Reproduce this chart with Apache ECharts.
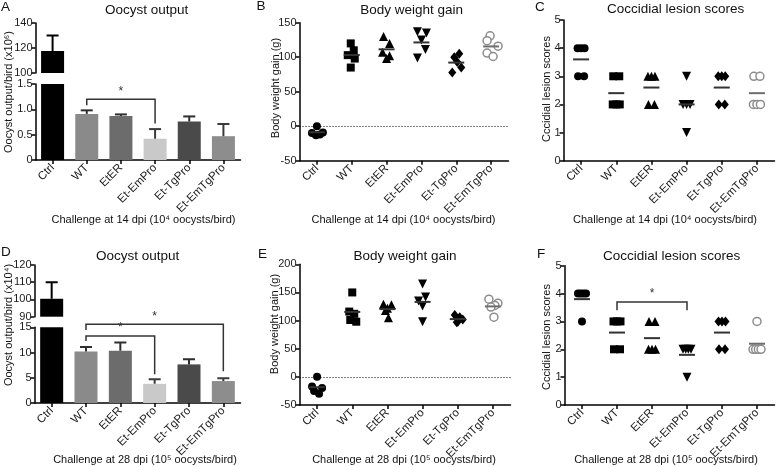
<!DOCTYPE html>
<html><head><meta charset="utf-8">
<script src="https://cdn.jsdelivr.net/npm/echarts@6/dist/echarts.min.js"></script>
<style>html,body{margin:0;padding:0;background:#fff}#c{width:777px;height:467px}</style>
</head><body><div id="c"></div>
<script>
// ---------------- DATA ----------------
const categories = ['Ctrl', 'WT', 'EtER', 'Et-EmPro', 'Et-TgPro', 'Et-EmTgPro'];

// A: oocyst output, challenge 14 dpi (x10^6), mean and SEM
const oocyst14Mean = [117.6, 0.91, 0.87, 0.42, 0.76, 0.47];
const oocyst14Err  = [12.4, 0.07, 0.03, 0.19, 0.10, 0.24];
// D: oocyst output, challenge 28 dpi (x10^4)
const oocyst28Mean = [100.4, 10.2, 10.35, 3.8, 7.65, 4.35];
const oocyst28Err  = [9.6, 0.9, 1.65, 0.9, 1.0, 0.55];

// B / E: body weight gain (g), 5 birds per group
const bw14 = [
  [0, -10, -13, -12, -9],
  [120, 110, 103, 98, 85],
  [130, 120, 107, 102, 98],
  [137, 135, 125, 111, 99],
  [105, 100, 93, 85, 78],
  [131, 124, 116, 106, 101]
];
const bw28 = [
  [0, -17, -20, -25, -30],
  [150, 116, 112, 101, 98],
  [129, 128, 122, 118, 105],
  [165, 142, 135, 126, 98],
  [110, 106, 102, 98, 97],
  [138, 131, 127, 124, 106]
];
// C / F: coccidial lesion scores
const lesion14 = [
  [4, 4, 4, 3, 3],
  [3, 3, 2, 2, 2],
  [3, 3, 3, 2, 2],
  [3, 2, 2, 2, 1],
  [3, 3, 3, 2, 2],
  [3, 3, 2, 2, 2]
];
const lesion28 = [
  [4, 4, 4, 4, 3],
  [3, 3, 3, 2, 2],
  [3, 3, 2, 2, 2],
  [2, 2, 2, 2, 1],
  [3, 3, 3, 2, 2],
  [3, 2, 2, 2, 2]
];

// significance brackets: [fromIndex, toIndex, barValue, fromLegEnd, toLegEnd]
const bracketsA = [[1, 3, 1.2, 1.08, 0.72]];
const bracketsD = [[1, 5, 15.6, 14.45, 6.3], [1, 3, 13.27, 12.3, 5.7]];
const bracketsF = [[1, 3, 3.7, 3.4, 3.4]];

// text
const titleOocyst = 'Oocyst output';
const titleBW = 'Body weight gain';
const titleLesion = 'Coccidial lesion scores';
const xName14 = 'Challenge at 14 dpi (10\u2074 oocysts/bird)';
const xName28 = 'Challenge at 28 dpi (10\u2075 oocysts/bird)';
const yNameA = 'Oocyst output/bird (x10\u2076)';
const yNameD = 'Oocyst output/bird (x10\u2074)';
const yNameBW = 'Body weight gain (g)';
const yNameLesion = 'Cccidial lesion scores';

// ---------------- STYLE (not data) ----------------
const FONT = '"Liberation Sans", Arial, sans-serif';
const barColors = ['#000000', '#8a8a8a', '#6c6c6c', '#c9c9c9', '#4a4a4a', '#8d8d8d'];
const errColors = ['#000000', '#2e2e2e', '#2e2e2e', '#3a3a3a', '#2e2e2e', '#3a3a3a'];
const symbols = ['circle', 'rect', 'triangle', 'triangle', 'diamond', 'circle'];
const symbolRot = [0, 0, 0, 180, 0, 0];
const symbolSizes = [8, 8, 9, 9, [8, 10], 8];
// horizontal jitter (px) for body weight scatter
const bw14Jitter = [[0, -5, -1, 3, 6], [-1, 2, -4, 3, -1], [-3, 3, -4, 3, 0], [-4, 5, 0, 4, -4], [3, -2, 1, 5, -4], [-1, -4, 7, -4, 2]];
const bw28Jitter = [[0, -5, 5, -3, 2], [0, -3, 2, -2, 4], [-4, 4, 0, -2, 1], [0, 3, -4, 0, 0], [-3, 2, 5, 0, -1], [-4, 5, 2, -2, 1]];

function spreadOffsets(vals) {
  const counts = {}, seen = {};
  vals.forEach(v => counts[v] = (counts[v] || 0) + 1);
  const spanFor = n => n <= 1 ? 0 : (n === 2 ? 6 : (n === 3 ? 7 : 8));
  return vals.map(v => {
    const n = counts[v]; const k = seen[v] || 0; seen[v] = k + 1;
    if (n === 1) return 0;
    const s = spanFor(n);
    return -s / 2 + k * s / (n - 1);
  });
}
const mean = a => a.reduce((s, v) => s + v, 0) / a.length;

const grids = [
  {left: 35.5, top: 23, width: 205, height: 50},     // 0 A upper
  {left: 35.5, top: 84, width: 205, height: 76},     // 1 A lower
  {left: 299.5, top: 22.7, width: 209, height: 138}, // 2 B
  {left: 563.5, top: 20, width: 211, height: 140.7}, // 3 C
  {left: 34.5, top: 265, width: 206, height: 51.7},  // 4 D upper
  {left: 34.5, top: 327.3, width: 206, height: 75.7},// 5 D lower
  {left: 299.5, top: 264.3, width: 211, height: 140.7}, // 6 E
  {left: 564.5, top: 265.7, width: 210, height: 139.3}  // 7 F
].map(g => Object.assign({containLabel: false, outerBoundsMode: 'none'}, g));

const axisLine = {show: true, onZero: false, lineStyle: {color: '#000', width: 1.5}};
const axisTick = {show: true, length: 4, lineStyle: {color: '#000', width: 1.5}};

function xAxis(gi, show) {
  return {
    type: 'category', gridIndex: gi, data: categories, boundaryGap: true,
    show: show,
    axisLine: axisLine,
    axisTick: Object.assign({alignWithLabel: true, interval: 0}, axisTick),
    axisLabel: {interval: 0, rotate: 45, fontSize: 11.5, color: '#1a1a1a', fontFamily: FONT, margin: 6, hideOverlap: false},
    splitLine: {show: false}
  };
}
function yAxis(gi, min, max, interval, fmt) {
  return {
    type: 'value', gridIndex: gi, min, max, interval,
    axisLine: axisLine, axisTick: axisTick,
    axisLabel: {fontSize: 11, color: '#1a1a1a', fontFamily: FONT, margin: 3, formatter: fmt},
    splitLine: {show: false}
  };
}
const fmt1 = v => v === 0 ? '0' : v.toFixed(1);

const xAxes = [xAxis(0, false), xAxis(1, true), xAxis(2, true), xAxis(3, true),
               xAxis(4, false), xAxis(5, true), xAxis(6, true), xAxis(7, true)];
const yAxes = [
  yAxis(0, 100, 140, 20), yAxis(1, 0, 1.5, 0.5, fmt1), yAxis(2, -50, 150, 50), yAxis(3, 0, 5, 1),
  yAxis(4, 90, 120, 10), yAxis(5, 0, 15, 5), yAxis(6, -50, 200, 50), yAxis(7, 0, 5, 1)
];

function barSeries(ai, means) {
  return {
    type: 'bar', xAxisIndex: ai, yAxisIndex: ai, barWidth: 23, clip: true,
    data: means.map((m, i) => ({value: m, itemStyle: {color: barColors[i]}})),
    z: 2
  };
}
function errorSeries(ai, means, errs) {
  return {
    type: 'custom', xAxisIndex: ai, yAxisIndex: ai, clip: true, z: 3,
    encode: {x: 0, y: 1},
    data: means.map((m, i) => [i, m, m + errs[i]]),
    renderItem(params, api) {
      const cs = params.coordSys;
      const base = api.coord([api.value(0), api.value(1)]);
      const top = api.coord([api.value(0), api.value(2)]);
      if (base[1] < cs.y - 0.5 || top[1] > cs.y + cs.height + 0.5) return null;
      const c = errColors[params.dataIndex];
      return {type: 'group', children: [
        {type: 'line', shape: {x1: base[0], y1: base[1], x2: top[0], y2: top[1]}, style: {stroke: c, lineWidth: 2}},
        {type: 'line', shape: {x1: top[0] - 6, y1: top[1], x2: top[0] + 6, y2: top[1]}, style: {stroke: c, lineWidth: 2}}
      ]};
    }
  };
}
function bracketSeries(ai, brackets) {
  return {
    type: 'custom', xAxisIndex: ai, yAxisIndex: ai, clip: false, z: 5,
    encode: {x: 0, y: 2},
    data: brackets,
    renderItem(params, api) {
      const f = api.value(0), t = api.value(1), y = api.value(2);
      const p1 = api.coord([f, api.value(3)]), p2 = api.coord([f, y]);
      const p3 = api.coord([t, y]), p4 = api.coord([t, api.value(4)]);
      return {type: 'group', children: [
        {type: 'polyline', shape: {points: [p1, p2, p3, p4]}, style: {stroke: '#333', lineWidth: 1.5, fill: null}},
        {type: 'text', x: (p2[0] + p3[0]) / 2, y: p2[1] - 2,
         style: {text: '*', fontSize: 12, fontFamily: FONT, fill: '#333', align: 'center', verticalAlign: 'bottom'}}
      ]};
    }
  };
}
function scatterSeries(ai, groups, offsetsFn) {
  return groups.map((g, gi) => {
    const offs = offsetsFn(g, gi);
    const open = gi === 5;
    return {
      type: 'scatter', xAxisIndex: ai, yAxisIndex: ai, z: 4,
      symbol: symbols[gi], symbolRotate: symbolRot[gi], symbolSize: symbolSizes[gi],
      itemStyle: open ? {color: '#fff', borderColor: '#8d8d8d', borderWidth: 1.5, opacity: 1}
                      : {color: '#000', opacity: 1},
      emphasis: {disabled: true},
      data: g.map((v, k) => ({value: [gi, v], symbolOffset: [offs[k], 0]}))
    };
  });
}
function meanSeries(ai, groups) {
  return {
    type: 'custom', xAxisIndex: ai, yAxisIndex: ai, z: 6,
    encode: {x: 0, y: 1},
    data: groups.map((g, i) => [i, mean(g)]),
    renderItem(params, api) {
      const p = api.coord([api.value(0), api.value(1)]);
      const c = params.dataIndex === 5 ? '#6e6e6e' : '#333';
      return {type: 'line', shape: {x1: p[0] - 8, y1: p[1], x2: p[0] + 8, y2: p[1]}, style: {stroke: c, lineWidth: 2}};
    }
  };
}
function zeroLine(ai) {
  return {
    type: 'line', xAxisIndex: ai, yAxisIndex: ai, data: [], z: 1,
    markLine: {silent: true, symbol: ['none', 'none'], label: {show: false},
      lineStyle: {type: [1, 2], color: '#000', width: 1}, emphasis: {disabled: true},
      data: [{yAxis: 0}]}
  };
}

const series = [
  barSeries(0, oocyst14Mean), barSeries(1, oocyst14Mean),
  errorSeries(0, oocyst14Mean, oocyst14Err), errorSeries(1, oocyst14Mean, oocyst14Err),
  bracketSeries(1, bracketsA),
  zeroLine(2),
  ...scatterSeries(2, bw14, (g, gi) => bw14Jitter[gi]), meanSeries(2, bw14),
  ...scatterSeries(3, lesion14, g => spreadOffsets(g)), meanSeries(3, lesion14),
  barSeries(4, oocyst28Mean), barSeries(5, oocyst28Mean),
  errorSeries(4, oocyst28Mean, oocyst28Err), errorSeries(5, oocyst28Mean, oocyst28Err),
  bracketSeries(5, bracketsD),
  zeroLine(6),
  ...scatterSeries(6, bw28, (g, gi) => bw28Jitter[gi]), meanSeries(6, bw28),
  ...scatterSeries(7, lesion28, g => spreadOffsets(g)), meanSeries(7, lesion28),
  bracketSeries(7, bracketsF)
];

function txt(text, x, y, size, opts) {
  return Object.assign({type: 'text', x, y, silent: true,
    style: Object.assign({text, fontSize: size, fontFamily: FONT, fill: '#111', align: 'center', verticalAlign: 'middle'}, (opts && opts.style) || {})},
    opts && opts.rotation !== undefined ? {rotation: opts.rotation} : {});
}
const R = Math.PI / 2;
const graphics = [
  txt('A', 1, 7.5, 13.5, {style: {align: 'left'}}),
  txt('B', 256.5, 6.5, 13.5, {style: {align: 'left'}}),
  txt('C', 535, 7, 13.5, {style: {align: 'left'}}),
  txt('D', 1, 252.5, 13.5, {style: {align: 'left'}}),
  txt('E', 258, 254, 13.5, {style: {align: 'left'}}),
  txt('F', 537, 254, 13.5, {style: {align: 'left'}}),
  txt(titleOocyst, 146.7, 10, 13.5), txt(titleBW, 411.7, 10, 13.5), txt(titleLesion, 675.7, 9.5, 13.5),
  txt(titleOocyst, 137.7, 256.7, 13.5), txt(titleBW, 405, 256.7, 13.5), txt(titleLesion, 671.7, 256.7, 13.5),
  txt(xName14, 143.5, 220, 11), txt(xName14, 403.5, 220, 11), txt(xName14, 665, 220, 11),
  txt(xName28, 145, 460, 11), txt(xName28, 404, 460, 11), txt(xName28, 666, 460, 11),
  txt(yNameA, 9, 92, 11, {rotation: R}), txt(yNameBW, 276, 88, 11, {rotation: R}), txt(yNameLesion, 546.7, 89, 11, {rotation: R}),
  txt(yNameD, 9, 325, 11, {rotation: R}), txt(yNameBW, 275, 324, 11, {rotation: R}), txt(yNameLesion, 546.7, 337, 11, {rotation: R})
];

const chart = echarts.init(document.getElementById('c'), null, {renderer: 'canvas'});
chart.setOption({
  animation: false,
  backgroundColor: '#fff',
  textStyle: {fontFamily: FONT},
  grid: grids,
  xAxis: xAxes,
  yAxis: yAxes,
  series: series,
  graphic: graphics
});
</script>
</body></html>
